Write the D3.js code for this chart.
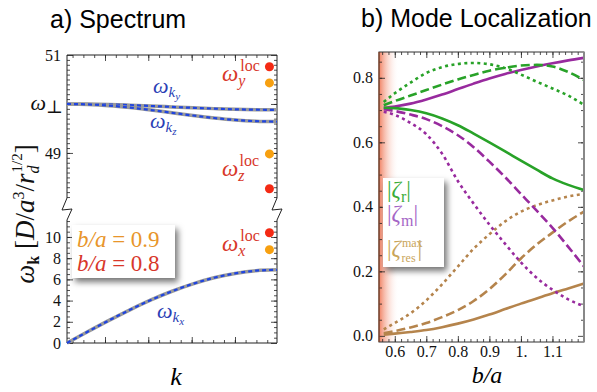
<!DOCTYPE html>
<html>
<head>
<meta charset="utf-8">
<script src="https://cdn.jsdelivr.net/npm/d3@7"></script>
<style>
body { margin: 0; background: #fff; }
</style>
</head>
<body>
<div id="chart"></div>
<script>
// ---- data: a) Spectrum ----
var kVals = [0, 0.1, 0.2, 0.3, 0.4, 0.5, 0.6, 0.7, 0.8, 0.9, 1.0];
var omegaKx = [0, 1.08, 2.13, 3.13, 4.06, 4.88, 5.58, 6.15, 6.56, 6.82, 6.9];
var omegaKy = [50, 49.997, 49.989, 49.975, 49.959, 49.94, 49.921, 49.905, 49.891, 49.883, 49.88];
var omegaKz = [50, 49.991, 49.966, 49.926, 49.876, 49.82, 49.764, 49.714, 49.674, 49.649, 49.64];
var locModes = ["x", "z", "y"];
var locK = 0.964;
var locBa08 = [10.4, 48.27, 50.76];   // red
var locBa09 = [8.8, 48.98, 50.43];    // orange
var upperTicks = [49, 51];
var lowerTicks = [0, 2, 4, 6, 8, 10];
var kMajor = [0.181, 0.387, 0.594, 0.8];

// ---- data: b) Mode Localization ----
var baVals = [0.565, 0.6, 0.65, 0.7, 0.75, 0.8, 0.85, 0.9, 0.95, 1.0, 1.05, 1.1, 1.15, 1.2];
var zetaRSolid = [0.707, 0.706, 0.70, 0.69, 0.674, 0.653, 0.627, 0.60, 0.572, 0.543, 0.515, 0.488, 0.468, 0.452];
var zetaRDash  = [0.715, 0.728, 0.745, 0.762, 0.779, 0.795, 0.809, 0.822, 0.831, 0.838, 0.840, 0.835, 0.818, 0.793];
var zetaRDot   = [0.725, 0.752, 0.785, 0.815, 0.833, 0.843, 0.846, 0.842, 0.83, 0.81, 0.788, 0.767, 0.745, 0.716];
var zetaMSolid = [0.707, 0.711, 0.72, 0.733, 0.748, 0.765, 0.782, 0.798, 0.812, 0.824, 0.835, 0.845, 0.854, 0.862];
var zetaMDash  = [0.703, 0.697, 0.686, 0.672, 0.65, 0.622, 0.585, 0.54, 0.492, 0.44, 0.388, 0.335, 0.276, 0.215];
var zetaMDot   = [0.695, 0.685, 0.66, 0.625, 0.565, 0.48, 0.41, 0.345, 0.285, 0.228, 0.18, 0.143, 0.113, 0.092];
var zetaSSolid = [0.004, 0.007, 0.012, 0.018, 0.027, 0.038, 0.051, 0.066, 0.083, 0.1, 0.116, 0.132, 0.147, 0.162];
var zetaSDash  = [0.008, 0.015, 0.026, 0.04, 0.058, 0.08, 0.108, 0.145, 0.19, 0.24, 0.283, 0.32, 0.355, 0.385];
var zetaSDot   = [0.02, 0.04, 0.07, 0.11, 0.16, 0.215, 0.27, 0.315, 0.355, 0.385, 0.405, 0.42, 0.432, 0.44];
var baTicks = [0.6, 0.7, 0.8, 0.9, 1.0, 1.1];
var baTickLabels = ["0.6", "0.7", "0.8", "0.9", "1.", "1.1"];
var zetaTicks = [0, 0.2, 0.4, 0.6, 0.8];

var serif = "'Liberation Serif','Times New Roman','DejaVu Serif',serif";
var sans = "'Liberation Sans',Arial,sans-serif";
var red = "#d8372a", orange = "#e8952a", blue = "#2b3fb5";
var green = "#28a228", purple = "#982a9e", brown = "#b5844c";

var svg = d3.select("#chart").append("svg")
    .attr("width", 597)
    .attr("height", 392);

var defs = svg.append("defs");
defs.append("filter").attr("id", "shadow")
    .attr("x", "-20%").attr("y", "-20%").attr("width", "150%").attr("height", "160%")
  .append("feDropShadow")
    .attr("dx", 3).attr("dy", 4).attr("stdDeviation", 3)
    .attr("flood-color", "#000").attr("flood-opacity", 0.55);
var grad = defs.append("linearGradient").attr("id", "band");
grad.append("stop").attr("offset", "0%").attr("stop-color", "#f07a5a").attr("stop-opacity", 0.95);
grad.append("stop").attr("offset", "100%").attr("stop-color", "#ffffff").attr("stop-opacity", 0);

// helper: inward ticks
function ticks(g, orient, scale, values, size, labels, tx, ty, pad) {
    var ax = orient(scale).tickValues(values)
        .tickSizeInner(-size).tickSizeOuter(0).tickPadding(pad || 6)
        .tickFormat(function(d, i){ return labels ? labels[i] : ""; });
    var a = g.append("g")
        .attr("transform", "translate(" + tx + "," + ty + ")")
        .call(ax);
    a.select(".domain").remove();
    a.selectAll("line").attr("stroke", "#222").attr("stroke-width", 0.8);
    a.selectAll("text").attr("font-family", serif).attr("font-size", 16).attr("fill", "#111");
    return a;
}

// ================= a) Spectrum =================
var gA = svg.append("g");
gA.append("text").attr("x", 50).attr("y", 28)
    .attr("font-family", sans).attr("font-size", 25).text("a) Spectrum");

var kx = d3.scaleLinear().domain([0, 1]).range([67, 277]);
var yUp = d3.scaleLinear().domain([48.08, 51]).range([198, 55]);
var yLo = d3.scaleLinear().domain([0, 11.6]).range([343, 220]);

// ticks
ticks(gA, d3.axisLeft, yUp, upperTicks, 6, upperTicks.map(String), 67, 0);
ticks(gA, d3.axisLeft, yUp, [50], 6, [""], 67, 0);
ticks(gA, d3.axisLeft, yUp, d3.range(48.1, 51, 0.1), 3, null, 67, 0);
ticks(gA, d3.axisRight, yUp, [49, 50, 51], 6, null, 277, 0);
ticks(gA, d3.axisRight, yUp, d3.range(48.1, 51, 0.1), 3, null, 277, 0);
ticks(gA, d3.axisLeft, yLo, lowerTicks, 6, lowerTicks.map(String), 67, 0);
ticks(gA, d3.axisLeft, yLo, d3.range(0.5, 11.6, 0.5), 3, null, 67, 0);
ticks(gA, d3.axisRight, yLo, lowerTicks, 6, null, 277, 0);
ticks(gA, d3.axisRight, yLo, d3.range(0.5, 11.6, 0.5), 3, null, 277, 0);
ticks(gA, d3.axisBottom, kx, kMajor, 6, null, 0, 343);
ticks(gA, d3.axisBottom, kx, d3.range(0.0265, 1, 0.0515), 3, null, 0, 343);
ticks(gA, d3.axisTop, kx, kMajor, 6, null, 0, 55);
ticks(gA, d3.axisTop, kx, d3.range(0.0265, 1, 0.0515), 3, null, 0, 55);

// frame with axis breaks
gA.append("path")
    .attr("d", "M67,198 L67,55 L277,55 L277,198 L272,210 L282,209 L277,220 L277,343 L67,343 L67,220 L72,209 L62,210 L67,198")
    .attr("fill", "none").attr("stroke", "#222").attr("stroke-width", 1);

// omega_perp label
var wp = gA.append("text").attr("x", 63).attr("y", yUp(50) + 6)
    .attr("text-anchor", "end").attr("font-family", serif).attr("font-size", 22).attr("fill", "#111");
wp.append("tspan").attr("font-style", "italic").text("ω");
wp.append("tspan").attr("font-size", 18).attr("dy", 3).text("⊥");

// dispersion curves
function drawBand(data, yScale) {
    var pts = kVals.map(function(k, i){ return [k, data[i]]; });
    var line = d3.line().x(function(d){ return kx(d[0]); }).y(function(d){ return yScale(d[1]); })
        .curve(d3.curveMonotoneX);
    gA.append("path").attr("d", line(pts)).attr("fill", "none")
        .attr("stroke", "#9a9a9a").attr("stroke-width", 3.5);
    gA.append("path").attr("d", line(pts)).attr("fill", "none")
        .attr("stroke", "#1f44e0").attr("stroke-width", 2.2).attr("stroke-dasharray", "4,3");
}
drawBand(omegaKy, yUp);
drawBand(omegaKz, yUp);
drawBand(omegaKx, yLo);

function omegaK(x, y, sub) {
    var t = gA.append("text").attr("x", x).attr("y", y)
        .attr("font-family", serif).attr("fill", blue).attr("font-size", 22);
    t.append("tspan").attr("font-style", "italic").text("ω");
    t.append("tspan").attr("font-style", "italic").attr("font-size", 15).attr("dy", 4).text("k");
    t.append("tspan").attr("font-style", "italic").attr("font-size", 11).attr("dy", 3).text(sub);
}
omegaK(153, 93, "y");
omegaK(150, 128, "z");
omegaK(157, 318, "x");

// localized modes
function locY(i, v) { return i === 0 ? yLo(v) : yUp(v); }
gA.selectAll(".dot08").data(locBa08).enter().append("circle")
    .attr("cx", kx(locK)).attr("cy", function(d, i){ return locY(i, d); })
    .attr("r", 4.5).attr("fill", "#f42a14");
gA.selectAll(".dot09").data(locBa09).enter().append("circle")
    .attr("cx", kx(locK)).attr("cy", function(d, i){ return locY(i, d); })
    .attr("r", 4.5).attr("fill", "#f7a010");

function locLabel(x, y, sub) {
    var t = gA.append("text").attr("x", x).attr("y", y)
        .attr("font-family", serif).attr("fill", red).attr("font-size", 23);
    t.append("tspan").attr("font-style", "italic").text("ω");
    t.append("tspan").attr("font-style", "italic").attr("font-size", 16).attr("dy", 5).text(sub);
    t.append("tspan").attr("font-size", 16).attr("dx", -5).attr("dy", -15).text("loc");
}
locLabel(222, 81, "y");
locLabel(222, 176, "z");
locLabel(222, 251, "x");

// legend a)
gA.append("rect").attr("x", 72).attr("y", 225).attr("width", 103).attr("height", 53)
    .attr("fill", "#fff").attr("filter", "url(#shadow)");
[["0.9", orange, 247], ["0.8", red, 271]].forEach(function(r){
    var t = gA.append("text").attr("x", 77).attr("y", r[2])
        .attr("font-family", serif).attr("font-size", 23).attr("fill", r[1]);
    t.append("tspan").attr("font-style", "italic").text("b/a");
    t.append("tspan").text(" = " + r[0]);
});

// axis labels
var yl = gA.append("text").attr("transform", "translate(34,214) rotate(-90)")
    .attr("text-anchor", "middle").attr("font-family", serif).attr("font-size", 27).attr("fill", "#111");
yl.append("tspan").attr("font-style", "italic").text("ω");
yl.append("tspan").attr("font-weight", "bold").attr("font-size", 16).attr("dy", 5).text("k");
yl.append("tspan").attr("dy", -5).text(" [");
yl.append("tspan").attr("font-style", "italic").text("D");
yl.append("tspan").text("/");
yl.append("tspan").attr("font-style", "italic").text("a");
yl.append("tspan").attr("font-size", 16).attr("dy", -10).text("3");
yl.append("tspan").attr("dy", 10).text("/");
yl.append("tspan").attr("font-style", "italic").text("r");
yl.append("tspan").attr("font-style", "italic").attr("font-size", 16).attr("dy", 5).text("d");
yl.append("tspan").attr("font-size", 15).attr("dx", -7).attr("dy", -17).text("1/2");
yl.append("tspan").attr("dy", 12).text("]");

gA.append("text").attr("x", 176).attr("y", 385).attr("text-anchor", "middle")
    .attr("font-family", serif).attr("font-style", "italic").attr("font-size", 26).text("k");

// ================= b) Mode Localization =================
var gB = svg.append("g");
gB.append("text").attr("x", 361).attr("y", 27)
    .attr("font-family", sans).attr("font-size", 25).text("b) Mode Localization");

var bx = d3.scaleLinear().domain([0.55, 1.2]).range([379, 584]);
var by = d3.scaleLinear().domain([-0.019, 0.88]).range([342, 52]);

gB.append("rect").attr("x", 379).attr("y", 52).attr("width", 20).attr("height", 290)
    .attr("fill", "url(#band)");

ticks(gB, d3.axisLeft, by, zetaTicks, 6, ["0.0", "0.2", "0.4", "0.6", "0.8"], 379, 0);
ticks(gB, d3.axisLeft, by, d3.range(0.05, 0.88, 0.05), 3, null, 379, 0);
ticks(gB, d3.axisRight, by, zetaTicks, 6, null, 584, 0);
ticks(gB, d3.axisRight, by, d3.range(0.05, 0.88, 0.05), 3, null, 584, 0);
ticks(gB, d3.axisBottom, bx, baTicks, 6, baTickLabels, 0, 342, 4);
ticks(gB, d3.axisBottom, bx, d3.range(0.56, 1.2, 0.02), 3, null, 0, 342);
ticks(gB, d3.axisTop, bx, baTicks, 6, null, 0, 52);
ticks(gB, d3.axisTop, bx, d3.range(0.56, 1.2, 0.02), 3, null, 0, 52);

var zLine = d3.line()
    .x(function(d, i){ return bx(baVals[i]); })
    .y(function(d){ return by(d); })
    .curve(d3.curveMonotoneX);

var series = [
    [zetaSSolid, brown, null], [zetaSDash, brown, "9,4"], [zetaSDot, brown, "3,3.5"],
    [zetaMDot, purple, "3,3.5"], [zetaMDash, purple, "9,4"], [zetaMSolid, purple, null],
    [zetaRDot, green, "3,3.5"], [zetaRDash, green, "9,4"], [zetaRSolid, green, null]
];
gB.selectAll(".zeta").data(series).enter().append("path")
    .attr("d", function(d){ return zLine(d[0]); })
    .attr("fill", "none")
    .attr("stroke", function(d){ return d[1]; })
    .attr("stroke-width", 2.6)
    .attr("stroke-dasharray", function(d){ return d[2]; });

gB.append("rect").attr("x", 379).attr("y", 52).attr("width", 205).attr("height", 290)
    .attr("fill", "none").attr("stroke", "#333").attr("stroke-width", 1);
gB.append("line").attr("x1", 584).attr("x2", 584).attr("y1", 52).attr("y2", 342)
    .attr("stroke", "#888").attr("stroke-width", 2);
gB.append("line").attr("x1", 379).attr("x2", 379).attr("y1", 52).attr("y2", 342)
    .attr("stroke", "#8a4a30").attr("stroke-width", 1.2);

// legend b)
gB.append("rect").attr("x", 383).attr("y", 178).attr("width", 61).attr("height", 89)
    .attr("fill", "#fff").attr("filter", "url(#shadow)");
function zetaLabel(y, color, sub, sup) {
    var t = gB.append("text").attr("x", 387).attr("y", y)
        .attr("font-family", serif).attr("font-size", 23).attr("fill", color);
    t.append("tspan").text("|");
    t.append("tspan").attr("font-style", "italic").text("ζ");
    if (sup) {
        t.append("tspan").attr("font-size", 12).attr("dx", 1).attr("dy", -9).text(sup);
        t.append("tspan").attr("font-size", 12).attr("dx", -21).attr("dy", 15).text(sub);
        t.append("tspan").attr("dx", 2).attr("dy", -6).text("|");
    } else {
        t.append("tspan").attr("font-size", 16).attr("dy", 5).text(sub);
        t.append("tspan").attr("dy", -5).text("|");
    }
}
zetaLabel(197, "#3aad3a", "r");
zetaLabel(221, "#a466c6", "m");
zetaLabel(256, "#c9a55a", "res", "max");

gB.append("text").attr("x", 487).attr("y", 383).attr("text-anchor", "middle")
    .attr("font-family", serif).attr("font-style", "italic").attr("font-size", 24).text("b/a");
</script>
</body>
</html>
